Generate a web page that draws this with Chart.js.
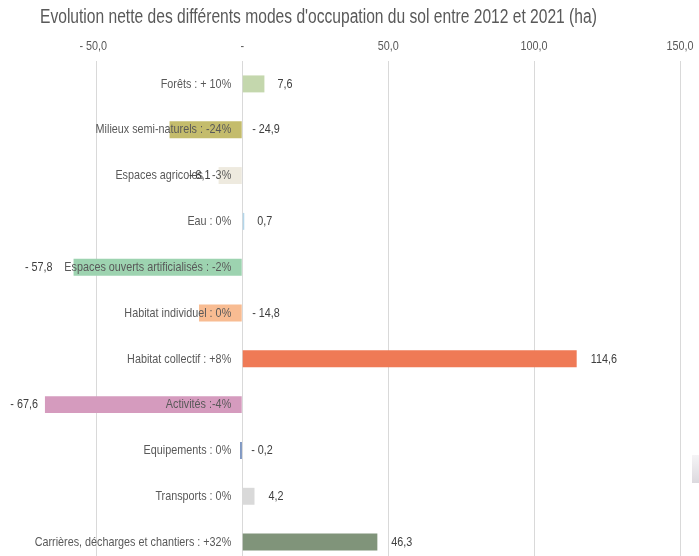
<!DOCTYPE html>
<html lang="fr">
<head>
<meta charset="utf-8">
<title>Occupation du sol 2012-2021</title>
<script src="https://cdn.jsdelivr.net/npm/chart.js@4.4.1/dist/chart.umd.min.js"></script>
<style>
    html, body { margin: 0; padding: 0; background: #ffffff; overflow: hidden; }
    #wrap { width: 699px; height: 566px; }
</style>
</head>
<body>
<div id="wrap"><canvas id="solChart" width="699" height="566"></canvas></div>
<script>
// Modes d'occupation du sol (libellé + évolution en %)
const categories = [
    'Forêts : + 10%',
    'Milieux semi-naturels : -24%',
    'Espaces agricoles : -3%',
    'Eau : 0%',
    'Espaces ouverts artificialisés : -2%',
    'Habitat individuel : 0%',
    'Habitat collectif : +8%',
    'Activités :-4%',
    'Equipements : 0%',
    'Transports : 0%',
    'Carrières, décharges et chantiers : +32%'
];

// Evolution nette en hectares
const evolutionHa = [7.6, -24.9, -8.1, 0.7, -57.8, -14.8, 114.6, -67.6, -0.2, 4.2, 46.3];

// Graduations de l'axe horizontal
const xTicks = [-50, 0, 50, 100, 150];

const barColors = [
    '#c4d7ad', '#c4bc6c', '#eeeadf', '#b4d6ea', '#9dd3b0', '#f8bc92',
    '#ef7a56', '#d59bbe', '#5a79b0', '#d9d9d9', '#80947a'
];

// Où placer l'étiquette de valeur : 'end' = au bout de la barre, 'zero' = à droite de l'axe 0
const labelPlacement = [
    { side: 'end', gap: 13 }, { side: 'zero', gap: 10 }, { side: 'end', gap: 8 },
    { side: 'end', gap: 13 }, { side: 'end', gap: 21 }, { side: 'zero', gap: 10 },
    { side: 'end', gap: 14 }, { side: 'end', gap: 7 }, { side: 'zero', gap: 9 },
    { side: 'end', gap: 14 }, { side: 'end', gap: 14 }
];

// Police étroite simulée : Liberation Sans compressée horizontalement
const FONT = "'Liberation Sans', Arial, sans-serif";
const NARROW = 0.8;
const LABEL_SIZE = 13.5;

// Format comptable : "- 50,0", "-", "50,0"
function formatHa(v) {
    if (v === 0) return '-';
    const s = Math.abs(v).toFixed(1).replace('.', ',');
    return v < 0 ? '- ' + s : s;
}

function narrowText(ctx, text, x, y, align, size, color) {
    ctx.save();
    ctx.font = size + 'px ' + FONT;
    ctx.fillStyle = color;
    ctx.textAlign = align;
    ctx.textBaseline = 'middle';
    ctx.translate(x, y);
    ctx.scale(NARROW, 1);
    ctx.fillText(text, 0, 0);
    ctx.restore();
}

// Titre, graduations, libellés des catégories et valeurs
const labelsPlugin = {
    id: 'solLabels',
    afterDatasetsDraw(chart) {
        const ctx = chart.ctx;
        const xScale = chart.scales.x;
        const meta = chart.getDatasetMeta(0);
        const zeroX = xScale.getPixelForValue(0);

        narrowText(ctx, "Evolution nette des différents modes d'occupation du sol entre 2012 et 2021 (ha)",
            40, 18, 'left', 19.5, '#595959');

        xTicks.forEach(v => {
            narrowText(ctx, formatHa(v), xScale.getPixelForValue(v) - (v < 0 ? 3 : 0), 46, 'center', LABEL_SIZE, '#595959');
        });

        meta.data.forEach((bar, i) => {
            const y = bar.y;
            // Libellé de la catégorie, collé à gauche de l'axe 0
            narrowText(ctx, categories[i], zeroX - 11, y, 'right', LABEL_SIZE, '#595959');

            // Valeur
            const v = evolutionHa[i];
            const p = labelPlacement[i];
            if (p.side === 'zero') {
                narrowText(ctx, formatHa(v), zeroX + p.gap, y, 'left', LABEL_SIZE, '#404040');
            } else if (v >= 0) {
                narrowText(ctx, formatHa(v), bar.x + p.gap, y, 'left', LABEL_SIZE, '#404040');
            } else {
                narrowText(ctx, formatHa(v), bar.x - p.gap, y, 'right', LABEL_SIZE, '#404040');
            }
        });

        // petit ombrage au bord droit
        ctx.save();
        const g = ctx.createLinearGradient(0, 455, 0, 483);
        g.addColorStop(0, '#f5f4f6');
        g.addColorStop(1, '#dcd9de');
        ctx.fillStyle = g;
        ctx.fillRect(692, 455, 7, 28);
        ctx.restore();
    }
};

const ctx = document.getElementById('solChart').getContext('2d');
new Chart(ctx, {
    type: 'bar',
    data: {
        labels: categories,
        datasets: [{
            data: evolutionHa,
            backgroundColor: barColors,
            borderWidth: 0,
            minBarLength: 2,
            barPercentage: 0.37,
            categoryPercentage: 1
        }]
    },
    options: {
        indexAxis: 'y',
        responsive: false,
        animation: false,
        devicePixelRatio: 1,
        layout: { padding: { top: 61, left: 0, right: 19, bottom: 1 } },
        plugins: {
            legend: { display: false },
            title: { display: false },
            tooltip: { enabled: false }
        },
        scales: {
            x: {
                type: 'linear',
                position: 'top',
                min: -83,
                max: 150,
                afterBuildTicks(axis) {
                    axis.ticks = xTicks.map(v => ({ value: v }));
                },
                ticks: { display: false },
                grid: { color: '#d9d9d9', lineWidth: 1, drawTicks: false },
                border: { display: false }
            },
            y: {
                display: false
            }
        }
    },
    plugins: [labelsPlugin]
});
</script>
</body>
</html>
